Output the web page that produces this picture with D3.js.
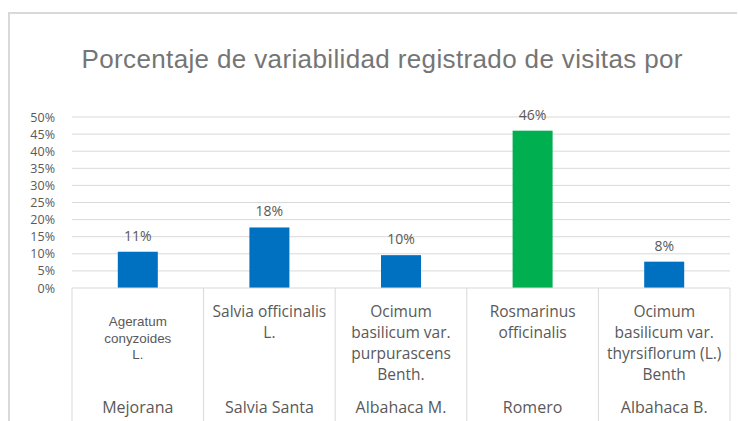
<!DOCTYPE html>
<html>
<head>
<meta charset="utf-8">
<script src="https://cdn.jsdelivr.net/npm/d3@7"></script>
<style>
  body { margin: 0; background: #fff; }
  svg text { fill: #595959; }
</style>
</head>
<body>
<svg id="drawing_region"></svg>
<script>
const commonNames = ["Mejorana", "Salvia Santa", "Albahaca M.", "Romero", "Albahaca B."];
const speciesNames = [
    ["Ageratum", "conyzoides", "L."],
    ["Salvia officinalis", "L."],
    ["Ocimum", "basilicum var.", "purpurascens", "Benth."],
    ["Rosmarinus", "officinalis"],
    ["Ocimum", "basilicum var.", "thyrsiflorum (L.)", "Benth"]
];
const percentValues = [0.106, 0.177, 0.096, 0.46, 0.077];
const valueLabels = ["11%", "18%", "10%", "46%", "8%"];
const barColors = ["#0070C0", "#0070C0", "#0070C0", "#00B050", "#0070C0"];
const yTicks = [0, 0.05, 0.1, 0.15, 0.2, 0.25, 0.3, 0.35, 0.4, 0.45, 0.5];
const titleText = "Porcentaje de variabilidad registrado de visitas por";

const config = {
    width: 738,
    height: 421,
    margin: {top: 117, right: 8, bottom: 133, left: 72}
};
const labelFont = '"Open Sans", Lato, sans-serif';

const svg = d3.select('#drawing_region')
    .attr('width', config.width)
    .attr('height', config.height);

// chart frame
svg.append('path')
    .attr('d', 'M9,421 V13 H737')
    .attr('fill', 'none')
    .attr('stroke', '#d9d9d9')
    .attr('stroke-width', 2);

svg.append('text')
    .attr('x', 382)
    .attr('y', 68)
    .attr('text-anchor', 'middle')
    .attr('textLength', 601)
    .style('font-family', '"Liberation Sans", Arial, sans-serif')
    .style('font-size', '26px')
    .style('fill', '#757575')
    .text(titleText);

const inner_width = 658;
const inner_height = 288 - config.margin.top;

const chart = svg.append('g')
    .attr('transform', `translate(${config.margin.left}, ${config.margin.top})`);

const xscale = d3.scaleBand()
    .domain(commonNames)
    .range([0, inner_width]);

const yscale = d3.scaleLinear()
    .domain([0, 0.5])
    .range([inner_height, 0]);

// gridlines
chart.append('g')
    .selectAll('line')
    .data(yTicks.slice(1))
    .join('line')
    .attr('x1', 0)
    .attr('x2', inner_width)
    .attr('y1', d => yscale(d))
    .attr('y2', d => yscale(d))
    .attr('stroke', '#d9d9d9')
    .attr('stroke-width', 1);

// y axis labels
const yaxis = d3.axisLeft(yscale)
    .tickValues(yTicks)
    .tickFormat(d3.format('.0%'))
    .tickSize(0)
    .tickPadding(17);

chart.append('g')
    .call(yaxis)
    .call(g => g.select('.domain').remove())
    .selectAll('text')
    .style('font-family', labelFont)
    .style('font-size', '12.5px')
    .style('fill', '#595959');

// bars
const bw = 40;
chart.selectAll('rect.bar')
    .data(percentValues)
    .join('rect')
    .attr('class', 'bar')
    .attr('x', (d, i) => xscale(commonNames[i]) + xscale.bandwidth() / 2 - bw / 2)
    .attr('y', d => yscale(d))
    .attr('width', bw)
    .attr('height', d => inner_height - yscale(d))
    .style('fill', (d, i) => barColors[i]);

// value labels
chart.selectAll('text.value')
    .data(percentValues)
    .join('text')
    .attr('class', 'value')
    .attr('x', (d, i) => xscale(commonNames[i]) + xscale.bandwidth() / 2)
    .attr('y', d => yscale(d) - 11)
    .attr('text-anchor', 'middle')
    .style('font-family', labelFont)
    .style('font-size', '14px')
    .text((d, i) => valueLabels[i]);

// category axis: base line and separators
const axis = chart.append('g').attr('transform', `translate(0, ${inner_height})`);
axis.append('line')
    .attr('x1', 0).attr('x2', inner_width)
    .attr('y1', 0).attr('y2', 0)
    .attr('stroke', '#d9d9d9');

const bounds = commonNames.map(c => xscale(c)).concat([inner_width]);
axis.selectAll('line.sep')
    .data(bounds)
    .join('line')
    .attr('class', 'sep')
    .attr('x1', d => d).attr('x2', d => d)
    .attr('y1', 0).attr('y2', 140)
    .attr('stroke', '#d9d9d9');

// species labels (first level)
speciesNames.forEach((lines, i) => {
    const cx = xscale(commonNames[i]) + xscale.bandwidth() / 2;
    const small = i === 0;
    const lh = small ? 16.7 : 21;
    const start = small ? 38 : 29;
    axis.append('text')
        .attr('x', cx)
        .attr('text-anchor', 'middle')
        .style('font-family', small ? '"Liberation Sans", Arial, sans-serif' : labelFont)
        .style('font-size', small ? '13.4px' : '15.5px')
        .selectAll('tspan')
        .data(lines)
        .join('tspan')
        .attr('x', cx)
        .attr('y', (d, j) => start + j * lh)
        .text(d => d);
});

// common names (second level)
axis.selectAll('text.common')
    .data(commonNames)
    .join('text')
    .attr('class', 'common')
    .attr('x', d => xscale(d) + xscale.bandwidth() / 2)
    .attr('y', 125)
    .attr('text-anchor', 'middle')
    .style('font-family', labelFont)
    .style('font-size', '16px')
    .text(d => d);
</script>
</body>
</html>
